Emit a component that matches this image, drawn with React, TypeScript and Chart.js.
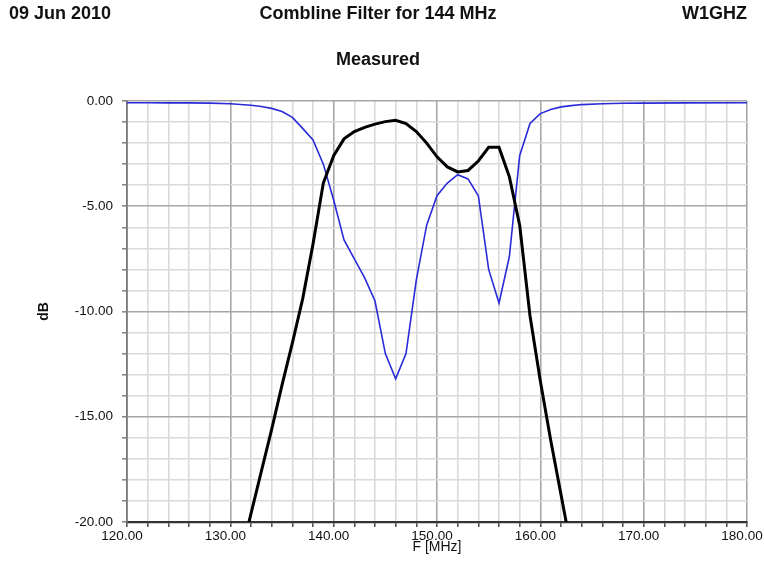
import React, { useEffect, useRef } from 'react';
import { Chart, registerables } from 'chart.js';

Chart.register(...registerables);

// ---- data ----
const titleLeft = '09 Jun 2010';
const titleMain = 'Combline Filter for 144 MHz';
const titleRight = 'W1GHZ';
const subTitle = 'Measured';
const xAxisTitle = 'F [MHz]';
const yAxisTitle = 'dB';

// Blue trace (return loss)
const blueFreq = [120, 122, 124, 126, 128, 130, 132, 133, 134, 135, 136, 137, 138, 139, 140, 141, 142, 143, 144, 145, 146, 147, 148, 149, 150, 151, 152, 153, 154, 155, 156, 157, 158, 159, 160, 161, 162, 163, 164, 166, 168, 170, 174, 180];
const blueDb = [-0.08, -0.08, -0.09, -0.09, -0.1, -0.13, -0.2, -0.26, -0.35, -0.5, -0.78, -1.3, -1.85, -3.0, -4.7, -6.6, -7.5, -8.4, -9.5, -12.0, -13.2, -12.0, -8.5, -5.9, -4.5, -3.9, -3.5, -3.7, -4.5, -8.0, -9.6, -7.4, -2.6, -1.07, -0.6, -0.4, -0.28, -0.22, -0.17, -0.13, -0.11, -0.1, -0.09, -0.08];

// Black trace (insertion loss)
const blackFreq = [131.8, 133, 134, 135, 136, 137, 138, 139, 140, 141, 142, 143, 144, 145, 146, 147, 148, 149, 150, 151, 152, 153, 154, 155, 156, 157, 158, 159, 160, 161, 162, 162.5];
const blackDb = [-20, -17.6, -15.6, -13.5, -11.5, -9.4, -6.8, -3.9, -2.6, -1.8, -1.45, -1.25, -1.1, -0.98, -0.92, -1.07, -1.45, -2.0, -2.65, -3.13, -3.37, -3.3, -2.85, -2.2, -2.2, -3.6, -5.9, -10.2, -13.3, -16.1, -18.7, -20];

const xMin = 120;
const xMax = 180;
const xStep = 2;
const xLabelEvery = 10;
const yMin = -20;
const yMax = 0;
const yStep = 1;
const yLabelEvery = 5;

const FONT = '"Liberation Sans", Arial, sans-serif';

const headerPlugin = {
  id: 'headerText',
  afterDraw(chart: any) {
    const ctx = chart.ctx;
    ctx.save();
    ctx.fillStyle = '#111';
    ctx.font = `bold 18px ${FONT}`;
    ctx.textBaseline = 'middle';
    ctx.textAlign = 'left';
    ctx.fillText(titleLeft, 9, 14);
    ctx.textAlign = 'center';
    ctx.fillText(titleMain, 378, 14);
    ctx.textAlign = 'right';
    ctx.fillText(titleRight, 747, 14);
    ctx.textAlign = 'center';
    ctx.fillText(subTitle, 378, 60);
    ctx.restore();
  },
};

export default function App() {
  const ref = useRef<HTMLCanvasElement>(null);

  useEffect(() => {
    const canvas = ref.current;
    if (!canvas) return;
    const chart = new Chart(canvas, {
      type: 'line',
      data: {
        datasets: [
          {
            label: 'S21',
            data: blackFreq.map((f, i) => ({ x: f, y: blackDb[i] })),
            borderColor: '#000000',
            borderWidth: 3,
            pointRadius: 0,
            tension: 0,
            fill: false,
          },
          {
            label: 'S11',
            data: blueFreq.map((f, i) => ({ x: f, y: blueDb[i] })),
            borderColor: '#2a2ad8',
            borderWidth: 1.6,
            pointRadius: 0,
            tension: 0,
            fill: false,
          },
        ],
      },
      options: {
        responsive: false,
        animation: false,
        events: [],
        layout: { padding: { top: 101, left: 36, right: 17, bottom: 8 } },
        plugins: {
          legend: { display: false },
          title: { display: false },
          tooltip: { enabled: false },
        },
        scales: {
          x: {
            type: 'linear',
            min: xMin,
            max: xMax,
            afterFit: (s: any) => {
              s.height = 34;
              s.paddingLeft = 0;
              s.paddingRight = 0;
            },
            ticks: {
              stepSize: xStep,
              autoSkip: false,
              maxRotation: 0,
              labelOffset: -5,
              padding: 1,
              color: '#111',
              font: { family: FONT, size: 13.5 },
              callback: (v: any) => (Math.round(v) % xLabelEvery === 0 ? Number(v).toFixed(2) : ''),
            },
            grid: {
              lineWidth: 1.6,
              color: (c: any) => (c.tick && Math.round(c.tick.value) % xLabelEvery === 0 ? '#a6a6a6' : '#dadada'),
              tickColor: '#555',
              tickLength: 5,
            },
            border: { display: true, color: '#333', width: 2.2 },
            title: {
              display: true,
              text: xAxisTitle,
              color: '#111',
              padding: 0,
              font: { family: FONT, size: 14 },
            },
          },
          y: {
            type: 'linear',
            min: yMin,
            max: yMax,
            afterFit: (s: any) => {
              s.width = 91;
              s.paddingTop = 0;
              s.paddingBottom = 0;
            },
            ticks: {
              stepSize: yStep,
              autoSkip: false,
              padding: 9,
              color: '#111',
              font: { family: FONT, size: 13.5 },
              callback: (v: any) => (Math.round(v) % yLabelEvery === 0 ? Number(v).toFixed(2) : ''),
            },
            grid: {
              lineWidth: 1.6,
              color: (c: any) => (c.tick && Math.round(c.tick.value) % yLabelEvery === 0 ? '#a6a6a6' : '#dadada'),
              tickColor: '#888',
              tickLength: 5,
            },
            border: { display: true, color: '#7a7a7a', width: 1.8 },
            title: {
              display: true,
              text: yAxisTitle,
              color: '#111',
              padding: 0,
              font: { family: FONT, size: 14, weight: 'bold' },
            },
          },
        },
      },
      plugins: [headerPlugin],
    } as any);
    return () => chart.destroy();
  }, []);

  return (
    <div style={{ position: 'absolute', left: 0, top: 0, width: 764, height: 564, background: '#fff' }}>
      <canvas ref={ref} width={764} height={564} style={{ display: 'block' }} />
    </div>
  );
}
